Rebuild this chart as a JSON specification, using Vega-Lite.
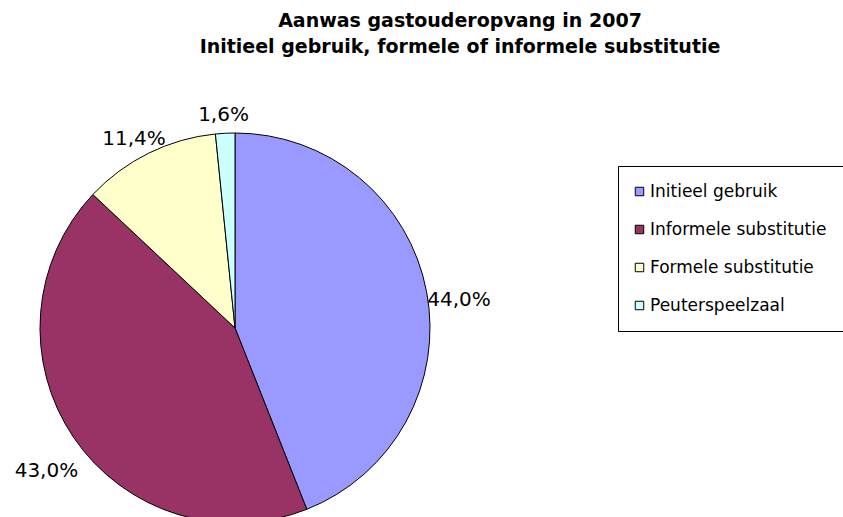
{
  "$schema": "https://vega.github.io/schema/vega-lite/v6.json",
  "width": 390,
  "height": 390,
  "autosize": "none",
  "padding": {"left": 40, "top": 133, "right": 413, "bottom": 0},
  "background": "white",
  "title": {
    "text": ["Aanwas gastouderopvang in 2007", "Initieel gebruik, formele of informele substitutie"],
    "font": "DejaVu Sans",
    "fontSize": 19,
    "fontWeight": "bold",
    "lineHeight": 26,
    "anchor": "middle",
    "frame": "group",
    "dx": 225,
    "offset": 48,
    "color": "black"
  },
  "data": {
    "values": [
      {"idx": 1, "categorie": "Initieel gebruik", "aandeel": 44.0, "label": "44,0%"},
      {"idx": 2, "categorie": "Informele substitutie", "aandeel": 43.0, "label": "43,0%"},
      {"idx": 3, "categorie": "Formele substitutie", "aandeel": 11.4, "label": "11,4%"},
      {"idx": 4, "categorie": "Peuterspeelzaal", "aandeel": 1.6, "label": "1,6%"}
    ]
  },
  "encoding": {
    "theta": {"field": "aandeel", "type": "quantitative", "stack": true},
    "order": {"field": "idx", "type": "quantitative"}
  },
  "layer": [
    {
      "mark": {"type": "arc", "outerRadius": 195, "stroke": "black", "strokeWidth": 1},
      "encoding": {
        "color": {
          "field": "categorie",
          "type": "nominal",
          "scale": {
            "domain": ["Initieel gebruik", "Informele substitutie", "Formele substitutie", "Peuterspeelzaal"],
            "range": ["#9999FF", "#993366", "#FFFFCC", "#CCFFFF"]
          },
          "legend": {
            "title": null,
            "orient": "none",
            "legendX": 578,
            "legendY": 33,
            "strokeColor": "black",
            "fillColor": "white",
            "padding": 17,
            "symbolType": "square",
            "symbolSize": 72,
            "symbolOffset": -4,
            "symbolStrokeColor": "black",
            "symbolStrokeWidth": 1,
            "labelFont": "DejaVu Sans",
            "labelFontSize": 17,
            "labelColor": "black",
            "labelOffset": 2,
            "labelLimit": 400,
            "rowPadding": 20
          }
        }
      }
    },
    {
      "mark": {"type": "text", "radius": 228, "dy": 15, "font": "DejaVu Sans", "fontSize": 20, "color": "black"},
      "encoding": {"text": {"field": "label", "type": "nominal"}}
    }
  ],
  "config": {"view": {"stroke": null}}
}
